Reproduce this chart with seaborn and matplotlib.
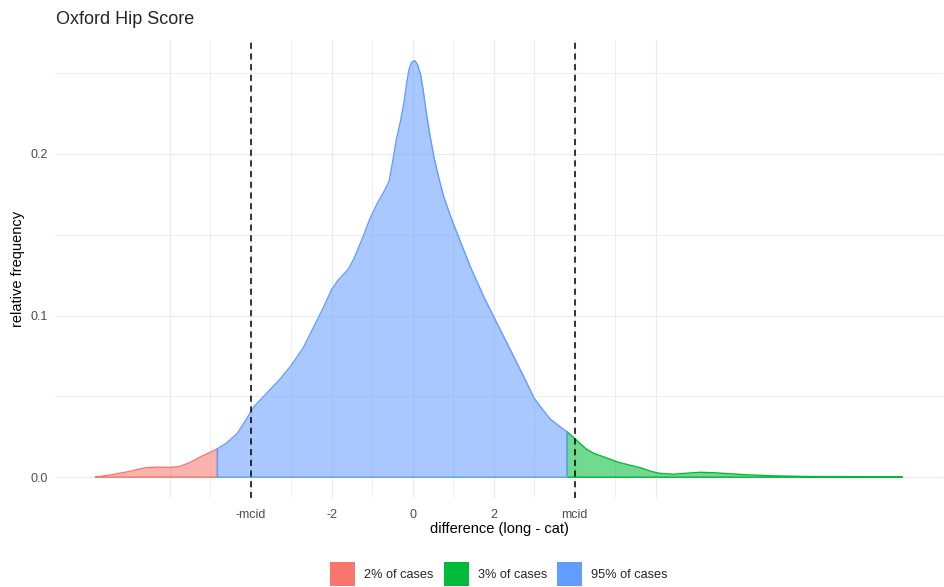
import numpy as np
import pandas as pd
import matplotlib
matplotlib.use("Agg")
import matplotlib.pyplot as plt
from matplotlib.patches import Patch
import seaborn as sns

# ---- data ----
mcid = 4.0
red_x = [-7.83, -7.4, -7.0, -6.6, -6.3, -6.0, -5.75, -5.5, -5.2, -4.82]
red_y = [0.0, 0.0016, 0.0035, 0.0058, 0.0062, 0.0060, 0.0066, 0.0090, 0.0130, 0.0175]

blue_x = [-4.82, -4.6, -4.33, -4.1, -3.92, -3.6, -3.26, -3.0, -2.7, -2.44, -2.2, -2.0,
          -1.85, -1.72, -1.58, -1.45, -1.25, -1.05, -0.87, -0.72, -0.58, -0.5, -0.4,
          -0.3, -0.21, -0.15, -0.09, -0.03, 0.05, 0.12, 0.2, 0.26, 0.32, 0.42, 0.53,
          0.65, 0.77, 0.93, 1.1, 1.43, 1.76, 2.09, 2.42, 2.75, 3.0, 3.16,
          3.4, 3.65, 3.82]
blue_y = [0.0175, 0.021, 0.027, 0.036, 0.0435, 0.052, 0.061, 0.069, 0.080, 0.093, 0.105, 0.116,
          0.1215, 0.125, 0.129, 0.135, 0.147, 0.160, 0.1695, 0.176, 0.183, 0.194, 0.2087,
          0.220, 0.232, 0.243, 0.252, 0.2565, 0.2578, 0.2555, 0.249, 0.240, 0.229, 0.213, 0.198,
          0.185, 0.1736, 0.162, 0.151, 0.130, 0.1116, 0.095, 0.0786, 0.062, 0.049, 0.0435,
          0.036, 0.031, 0.028]

green_x = [3.82, 4.0, 4.15, 4.3, 4.48, 4.8, 5.05, 5.35, 5.63, 5.9, 6.12, 6.45, 6.8, 7.1, 7.45,
           7.77, 8.3, 8.9, 9.75, 11.0, 12.1]
green_y = [0.028, 0.024, 0.0205, 0.0172, 0.0147, 0.0118, 0.0095, 0.0075, 0.0058, 0.0035, 0.0023,
           0.0018, 0.0025, 0.0030, 0.0027, 0.0022, 0.0014, 0.0008, 0.0004, 0.0003, 0.0]

labels = ["2% of cases", "3% of cases", "95% of cases"]
colors = ["#F8766D", "#00BA38", "#619CFF"]
x_ticks = [-mcid, -2, 0, 2, mcid]
x_ticklabels = ["-mcid", "-2", "0", "2", "mcid"]
y_ticks = [0.0, 0.1, 0.2]
y_ticklabels = ["0.0", "0.1", "0.2"]

# ---- plot ----
sns.set_style("white")
plt.rcParams["font.family"] = ["Liberation Sans", "DejaVu Sans"]

W, H = 945, 587
fig = plt.figure(figsize=(W / 100, H / 100), dpi=100)
L, R, T, B = 55, 943, 40, 498
ax = fig.add_axes([L / W, 1 - B / H, (R - L) / W, (B - T) / H])

# grid
for xv in range(-6, 7):
    ax.axvline(xv, color="#EBEBEB", lw=0.9 if xv % 2 == 0 else 0.6, zorder=0)
for yv in [0.0, 0.05, 0.1, 0.15, 0.2, 0.25]:
    ax.axhline(yv, color="#EBEBEB", lw=0.9 if round(yv * 100) % 10 == 0 else 0.6, zorder=0)

regions = [(red_x, red_y, colors[0], labels[0]),
           (green_x, green_y, colors[1], labels[1]),
           (blue_x, blue_y, colors[2], labels[2])]
for xs, ys, c, lab in regions:
    ax.fill_between(xs, ys, 0, color=c, alpha=0.55, lw=0, zorder=2)
    px = list(xs) + [xs[-1], xs[0], xs[0]]
    py = list(ys) + [0.0, 0.0, ys[0]]
    df = pd.DataFrame({"x": px, "y": py})
    sns.lineplot(data=df, x="x", y="y", sort=False, estimator=None, color=c,
                 lw=1.0, ax=ax, zorder=3)

for v in (-mcid, mcid):
    ax.axvline(v, color="black", ls=(0, (4, 3)), lw=1.1, zorder=4)

ax.set_xlim(-8.83, 13.1)
ax.set_ylim(-0.0129, 0.2705)
ax.set_xticks(x_ticks)
ax.set_xticklabels(x_ticklabels)
ax.set_yticks(y_ticks)
ax.set_yticklabels(y_ticklabels)
ax.tick_params(axis="both", length=0, labelsize=9, labelcolor="#4D4D4D")
ax.tick_params(axis="x", pad=8)
ax.tick_params(axis="y", pad=5)
for s in ax.spines.values():
    s.set_visible(False)

ax.set_xlabel("difference (long - cat)", fontsize=10.5, color="black", labelpad=1)
ax.set_ylabel("relative frequency", fontsize=10.5, color="black", labelpad=4)
fig.text(56 / W, 1 - 20 / H, "Oxford Hip Score", fontsize=13, ha="left", va="center")

handles = [Patch(facecolor=c, edgecolor="none") for c in colors]
fig.legend(handles, labels, loc="center", bbox_to_anchor=((L + R) / 2 / W, 1 - 574 / H),
           ncol=3, frameon=False, fontsize=9.2, handlelength=1.95, handleheight=2.4,
           handletextpad=0.7, columnspacing=0.8)

fig.savefig("out.png", dpi=100)
